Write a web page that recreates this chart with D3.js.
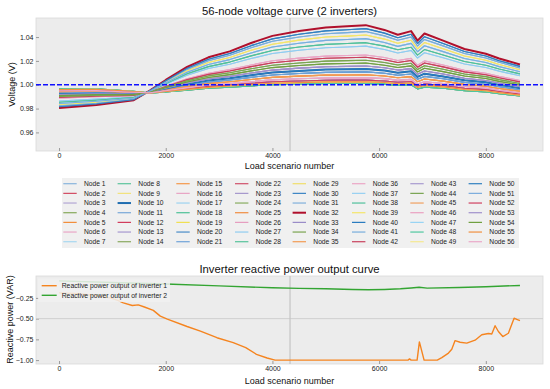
<!DOCTYPE html>
<html><head><meta charset="utf-8">
<script src="https://cdn.jsdelivr.net/npm/d3@7"></script>
<style>
body{margin:0;background:#fff}
svg{display:block}
text{font-family:"Liberation Sans",Arial,Helvetica,sans-serif}
</style></head>
<body><svg id="c" width="550" height="389"></svg>
<script>
// ---------- DATA ----------
// load scenario numbers at which the voltage curves were read
const scenarios = [0,700,1400,1700,2000,2400,2800,3200,3600,4000,4500,5000,5400,5750,6100,6350,6600,6720,6850,7200,7600,8000,8250,8640];
// voltage curve levels, in thousandths of p.u. above/below 1.000
const voltageLevelsMilli = [
 [-19.5,-17,-13,-5,4,15,23,28,35,41,45,48,49,50,46,42,45,37,43,37,30,26,22,17],
 [-18.5,-16.2,-12.6,-5.1,3.4,13.8,21.4,26.2,32.8,38.5,42.3,45.2,46.1,47.1,43.3,39.5,42.3,34.6,40.3,34.6,27.9,24.1,20.2,15.4],
 [-17.7,-15.5,-12.2,-5.2,2.9,12.9,20.1,24.7,31.0,36.5,40.1,42.8,43.7,44.6,41.0,37.3,40.1,32.5,38.0,32.6,26.2,22.5,18.8,14.1],
 [-16.8,-14.7,-11.7,-5.3,2.3,11.7,18.6,22.9,28.9,34.0,37.4,40.0,40.8,41.7,38.3,34.8,37.4,30.1,35.4,30.2,24.1,20.6,17.0,12.5],
 [-15.8,-13.9,-11.3,-5.5,1.7,10.5,17.0,21.1,26.7,31.6,34.8,37.2,38.0,38.7,35.5,32.2,34.7,27.7,32.7,27.8,22.0,18.6,15.2,10.9],
 [-14.7,-13.0,-10.8,-5.6,1.0,9.2,15.2,19.0,24.2,28.7,31.7,33.9,34.6,35.3,32.4,29.3,31.5,24.9,29.5,25.0,19.5,16.4,13.2,9.1],
 [-13.7,-12.1,-10.3,-5.7,0.4,8.0,13.6,17.2,22.0,26.2,29.0,31.1,31.7,32.4,29.6,26.7,28.8,22.4,26.8,22.6,17.4,14.5,11.4,7.5],
 [-11.3,-10.1,-9.2,-6.0,-1.1,5.1,9.7,12.7,16.6,20.1,22.3,24.0,24.5,25.0,22.8,20.3,22.1,16.3,20.0,16.6,12.2,9.7,7.0,3.5],
 [-10.7,-9.6,-8.9,-6.1,-1.5,4.3,8.7,11.5,15.2,18.5,20.5,22.2,22.6,23.1,21.0,18.6,20.3,14.7,18.3,15.0,10.8,8.4,5.8,2.4],
 [-9.9,-8.9,-8.5,-6.2,-2.0,3.3,7.4,10.0,13.4,16.4,18.3,19.8,20.2,20.6,18.7,16.5,18.0,12.7,16.0,13.0,9.0,6.8,4.3,1.1],
 [-9.1,-8.2,-8.1,-6.3,-2.5,2.3,6.1,8.5,11.6,14.4,16.1,17.5,17.8,18.2,16.4,14.4,15.8,10.7,13.8,11.0,7.3,5.2,2.8,-0.2],
 [-8.3,-7.6,-7.8,-6.4,-3.0,1.4,4.8,7.0,9.8,12.3,13.9,15.1,15.4,15.7,14.2,12.3,13.5,8.7,11.5,9.0,5.5,3.6,1.4,-1.6],
 [-7.5,-6.9,-7.4,-6.5,-3.5,0.4,3.5,5.5,8.0,10.3,11.6,12.8,13.0,13.3,11.9,10.1,11.3,6.6,9.3,7.0,3.8,2.0,-0.1,-2.9],
 [-6.7,-6.2,-7.0,-6.6,-4.0,-0.6,2.2,4.0,6.2,8.2,9.4,10.4,10.6,10.8,9.6,8.0,9.0,4.6,7.0,5.0,2.0,0.4,-1.6,-4.2],
 [-5.9,-5.5,-6.6,-6.7,-4.5,-1.6,0.9,2.5,4.4,6.2,7.2,8.1,8.2,8.4,7.3,5.9,6.8,2.6,4.8,3.0,0.3,-1.2,-3.1,-5.5],
 [-5.1,-4.9,-6.3,-6.8,-5.0,-2.6,-0.4,1.0,2.6,4.1,5.0,5.7,5.8,5.9,5.1,3.8,4.5,0.6,2.5,1.0,-1.5,-2.8,-4.6,-6.9],
 [-4.5,-4.3,-6.0,-6.9,-5.4,-3.3,-1.4,-0.2,1.2,2.5,3.2,3.8,3.9,3.9,3.2,2.1,2.7,-1.1,0.7,-0.6,-2.9,-4.1,-5.7,-7.9],
 [-4.0,-3.9,-5.7,-6.9,-5.7,-3.9,-2.2,-1.1,0.1,1.2,1.8,2.4,2.4,2.5,1.9,0.8,1.4,-2.3,-0.7,-1.8,-4.0,-5.0,-6.6,-8.7],
 [-3.5,-3.5,-5.5,-7,-6,-4.5,-3,-2,-1,0,0.5,1,1,1,0.5,-0.5,0,-3.5,-2,-3,-5,-6,-7.5,-9.5]
];
// which level curve each node (1..56) follows
const nodeLevel = [18,16,17,17,18,15,17,18,17,12,13,16,16,17,14,15,6,18,17,13,13,8,11,9,14,7,6,5,3,1,2,0,11,10,14,7,4,5,3,12,2,8,16,9,17,15,4,18,17,1,4,16,11,10,17,15];
const nodeNames = d3.range(1,57).map(i => "Node " + i);
const nodeColors = ["#88b4dc","#d24a62","#b2a6d4","#86a95a","#f28e3c","#eaa6c6","#a6d6f0","#5cc49c","#f2e27a","#1f6db0",
 "#78a8d8","#d23c5c","#a698cf","#88a85e","#f4984a","#e8a4c4","#9cd2f0","#4cc096","#f0e052","#4a8cc8",
 "#6ea2d8","#d0506a","#a596cc","#88ac60","#f08c40","#e69ec0","#90ccf0","#56c29a","#f0de6a","#3a84c4",
 "#80b0dc","#b0102c","#9a8cc8","#7aa450","#f29a52","#eba6c6","#96d0f2","#50c09c","#f4e66a","#2a7cc0",
 "#78aedc","#c8405c","#a89ad0","#78a450","#f0a060","#eaa0c0","#98d4f4","#50c8a0","#f4e890","#3080c0",
 "#7aacdc","#d04060","#a090cc","#70a040","#f09040","#eaa8c8"];
const thickNodes = [10,32];
const voltageTicks = [0.96,0.98,1.00,1.02,1.04];
const scenarioTicks = [0,2000,4000,6000,8000];
const refVoltage = 1.0;
const markerScenario = 4330;

const inv1S = [0,400,775,960,1100,1205,1373,1485,1600,1767,1898,2030,2400,2650,2960,3265,3500,3700,3900,4050,6545,6570,6600,6712,6755,6843,7090,7175,7300,7362,7424,7518,7643,7799,7924,8049,8112,8174,8236,8318,8423,8530,8580,8640];
const inv1Q = [-0.19,-0.20,-0.23,-0.25,-0.28,-0.31,-0.342,-0.334,-0.36,-0.40,-0.47,-0.505,-0.595,-0.65,-0.73,-0.79,-0.85,-0.93,-0.975,-1.0,-1.0,-0.985,-1.0,-1.0,-0.78,-1.0,-1.0,-0.97,-0.915,-0.87,-0.765,-0.785,-0.795,-0.76,-0.695,-0.68,-0.685,-0.586,-0.655,-0.716,-0.676,-0.495,-0.51,-0.525];
const inv2S = [0,1000,2000,3000,4000,4500,5000,5500,5800,6100,6400,6600,6750,6900,7500,8000,8640];
const inv2Q = [-0.045,-0.065,-0.082,-0.105,-0.128,-0.135,-0.14,-0.148,-0.152,-0.148,-0.14,-0.13,-0.122,-0.132,-0.125,-0.115,-0.10];
const reactiveTicks = [-1.00,-0.75,-0.50,-0.25];
const reactiveRef = -0.5;
const invNames = ["Reactive power output of inverter 1","Reactive power output of inverter 2"];
const invColors = ["#f5841f","#33a532"];

// ---------- DRAW ----------
const svg = d3.select("#c");
const FONT = '"Liberation Sans",Arial,Helvetica,sans-serif';
const L = 36, R = 543;

function panel(top, bottom, yDomain, yTicks, title, ylabel, xlabY, titleY) {
  const x = d3.scaleLinear().domain([-432, 9072]).range([L, R]);
  const y = d3.scaleLinear().domain(yDomain).range([bottom, top]);
  svg.append("rect").attr("x", L).attr("y", top).attr("width", R - L).attr("height", bottom - top)
    .attr("fill", "#ececec").attr("stroke", "#dadada").attr("stroke-width", 0.8);
  const gx = svg.append("g").attr("transform", `translate(0,${bottom})`)
    .call(d3.axisBottom(x).tickValues(scenarioTicks).tickSize(-3).tickPadding(2).tickFormat(d3.format("d")));
  const gy = svg.append("g").attr("transform", `translate(${L},0)`)
    .call(d3.axisLeft(y).tickValues(yTicks).tickSize(-3).tickPadding(2.5).tickFormat(d3.format(".2f")));
  [gx, gy].forEach(g => {
    g.select(".domain").remove();
    g.attr("font-size", 7).attr("font-family", FONT).attr("color", "#222");
    g.selectAll("line").attr("stroke", "#9a9a9a");
  });
  svg.append("text").attr("x", (L + R) / 2).attr("y", titleY).attr("text-anchor", "middle")
    .attr("font-size", 11.3).attr("fill", "#111").text(title);
  svg.append("text").attr("x", (L + R) / 2).attr("y", xlabY).attr("text-anchor", "middle")
    .attr("font-size", 9).attr("fill", "#111").text("Load scenario number");
  return {x, y, ylabel};
}

// top panel
const p1 = panel(18, 151, [0.9444, 1.056], voltageTicks, "56-node voltage curve (2 inverters)", "Voltage (V)", 168.5, 15);
svg.append("text").attr("transform", `translate(14.8,84.5) rotate(-90)`).attr("text-anchor", "middle")
  .attr("font-size", 9).attr("fill", "#111").text("Voltage (V)");
svg.append("line").attr("x1", p1.x(markerScenario)).attr("x2", p1.x(markerScenario))
  .attr("y1", 18).attr("y2", 151).attr("stroke", "#c4c4c4").attr("stroke-width", 1.2);
const vLine = d3.line().x((d, i) => p1.x(scenarios[i])).y(d => p1.y(1 + d / 1000));
nodeNames.forEach((n, i) => {
  svg.append("path").attr("d", vLine(voltageLevelsMilli[nodeLevel[i]]))
    .attr("fill", "none").attr("stroke", nodeColors[i])
    .attr("stroke-width", thickNodes.includes(i + 1) ? 2 : 1.1)
    .attr("stroke-linejoin", "round");
});
svg.append("line").attr("x1", L).attr("x2", R).attr("y1", p1.y(refVoltage)).attr("y2", p1.y(refVoltage))
  .attr("stroke", "#1010ff").attr("stroke-width", 1.5).attr("stroke-dasharray", "5,2");

// node legend
svg.append("rect").attr("x", 62).attr("y", 178).attr("width", 457).attr("height", 70).attr("fill", "#f0f0f0");
const colTextX = [84, 138.3, 197, 255.7, 313.3, 372.7, 431, 489.3];
nodeNames.forEach((n, i) => {
  const c = Math.floor(i / 7), r = i % 7;
  const yy = 183.7 + 9.67 * r, tx = colTextX[c];
  svg.append("line").attr("x1", tx - 20.7).attr("x2", tx - 7.3).attr("y1", yy).attr("y2", yy)
    .attr("stroke", nodeColors[i]).attr("stroke-width", thickNodes.includes(i + 1) ? 2 : 1.2);
  svg.append("text").attr("x", tx).attr("y", yy + 2.4).attr("font-size", 6.7).attr("fill", "#222").text(n);
});

// bottom panel
const p2 = panel(276, 364, [-1.047, 0.014], reactiveTicks, "Inverter reactive power output curve", "", 383.5, 273);
svg.append("text").attr("transform", `translate(13,319.5) rotate(-90)`).attr("text-anchor", "middle")
  .attr("font-size", 9).attr("fill", "#111").text("Reactive power (VAR)");
svg.append("line").attr("x1", L).attr("x2", R).attr("y1", p2.y(reactiveRef)).attr("y2", p2.y(reactiveRef))
  .attr("stroke", "#cfcfcf").attr("stroke-width", 1);
svg.append("line").attr("x1", p2.x(markerScenario)).attr("x2", p2.x(markerScenario))
  .attr("y1", 276).attr("y2", 364).attr("stroke", "#c4c4c4").attr("stroke-width", 1.2);
const qLine = (S) => d3.line().x((d, i) => p2.x(S[i])).y(d => p2.y(d));
svg.append("path").attr("d", qLine(inv1S)(inv1Q)).attr("fill", "none").attr("stroke", invColors[0]).attr("stroke-width", 1.4).attr("stroke-linejoin", "round");
svg.append("path").attr("d", qLine(inv2S)(inv2Q)).attr("fill", "none").attr("stroke", invColors[1]).attr("stroke-width", 1.4).attr("stroke-linejoin", "round");
// inverter legend
svg.append("rect").attr("x", 38).attr("y", 278.5).attr("width", 132).attr("height", 23.5)
  .attr("fill", "#f1f1f1").attr("fill-opacity", 0.85);
invNames.forEach((n, i) => {
  const yy = 285.7 + 9.6 * i;
  svg.append("line").attr("x1", 41.7).attr("x2", 56.7).attr("y1", yy).attr("y2", yy)
    .attr("stroke", invColors[i]).attr("stroke-width", 1.4);
  svg.append("text").attr("x", 61.7).attr("y", yy + 2.4).attr("font-size", 6.8).attr("fill", "#222").text(n);
});
</script></body></html>
